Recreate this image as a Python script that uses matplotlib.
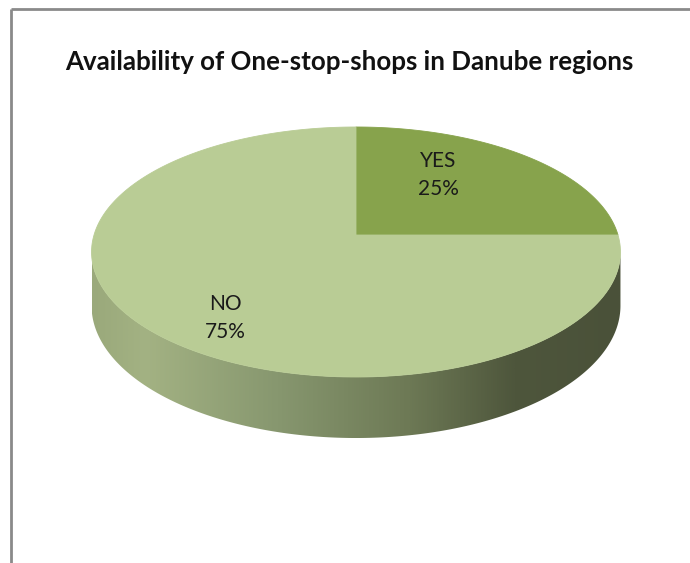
import numpy as np
import matplotlib
matplotlib.use("Agg")
import matplotlib.pyplot as plt
from matplotlib.patches import Polygon
from matplotlib.colors import LinearSegmentedColormap

# Survey answers
categories = ["YES", "NO"]
shares = [25, 75]
slice_colors = ["#87a34c", "#b9cc95"]
title = "Availability of One-stop-shops in Danube regions"

W, H = 690, 563
fig = plt.figure(figsize=(W / 100, H / 100), dpi=100)
ax = fig.add_axes([0, 0, 1, 1])
ax.set_xlim(0, W)
ax.set_ylim(H, 0)
ax.axis("off")

# chart frame (only the top and left edges fall inside the canvas)
ax.plot([11, W + 5], [9, 9], color="#8a8a8a", lw=2.0, solid_capstyle="butt")
ax.plot([11, 11], [9, H + 5], color="#8a8a8a", lw=2.0, solid_capstyle="butt")

ax.text(349, 62, title, ha="center", va="center", fontsize=18.6,
        fontweight="bold", family="Lato", color="#111111")

# perspective view of a tilted disc
cx, cy = 356, 235
rx, ry = 262, 122.7
k = 0.136
depth = 52.7


def project(theta_deg, z=0.0):
    t = np.radians(theta_deg)
    X, Y = np.cos(t), np.sin(t)
    w = 1 + k * Y
    return cx + rx * X / w, cy - ry * Y / w + z / w


# side wall (front half, between the silhouette points)
t_edge = np.degrees(np.arcsin(k))
ts = np.linspace(180 + t_edge, 360 - t_edge, 300)
top_x, top_y = project(ts)
bot_x, bot_y = project(ts, depth)
side_xy = np.column_stack([np.r_[top_x, bot_x[::-1]], np.r_[top_y, bot_y[::-1]]])
side = Polygon(side_xy, closed=True, facecolor="none", edgecolor="none")
ax.add_patch(side)

shade = LinearSegmentedColormap.from_list(
    "side", [(0.0, "#9aa97b"), (0.1, "#a3b283"), (0.35, "#87976f"),
             (0.6, "#6d7955"), (0.8, "#4e563c"), (1.0, "#4a5139")])
grad = np.linspace(0, 1, 512)[None, :]
img = ax.imshow(grad, cmap=shade, extent=(top_x.min(), top_x.max(), bot_y.max(), 200),
                aspect="auto", zorder=1)
img.set_clip_path(side)

# top face slices, clockwise from 12 o'clock
start = 90.0
for share, col in zip(shares, slice_colors):
    sweep = 360.0 * share / sum(shares)
    arc = np.linspace(start, start - sweep, 200)
    px, py = project(arc)
    pts = np.column_stack([np.r_[cx, px], np.r_[cy, py]])
    ax.add_patch(Polygon(pts, closed=True, facecolor=col, edgecolor=col,
                         lw=0.6, zorder=2))
    start -= sweep

# data labels
label_pos = {"YES": (438, 175), "NO": (225, 318)}
for name, share in zip(categories, shares):
    x, y = label_pos[name]
    ax.text(x, y, f"{name}\n{share}%", ha="center", va="center", fontsize=15,
            family="Lato", color="#1a1a1a", linespacing=1.45, zorder=3)

fig.savefig("out.png", dpi=100)
